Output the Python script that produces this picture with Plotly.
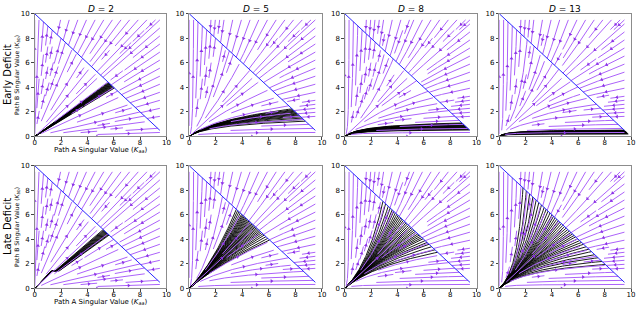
import math
import numpy as np
import plotly.graph_objects as go

# ---------------- data ----------------
DEPTHS = [2, 5, 8, 13]
ROW_LABELS = ["Early Deficit", "Late Deficit"]
TARGET = 10.0          # fixed-point line a + b = 10
GRID_MAX = 9.5         # extent of the stream grid
TICKS = [0, 2, 4, 6, 8, 10]

# x position where each black trajectory reaches the fixed-point line
EARLY_END_X = {
    2: [5.60, 5.64, 5.67, 5.70, 5.73, 5.76, 5.79, 5.82, 5.85, 5.88, 5.92, 5.96, 6.00, 6.05],
    5: [7.75, 7.82, 7.88, 7.94, 8.00, 8.06, 8.12, 8.18, 8.25, 8.32, 8.40, 8.50, 8.62, 8.75],
    8: [8.90, 8.95, 9.00, 9.04, 9.08, 9.12, 9.16, 9.20, 9.24, 9.28, 9.32, 9.37, 9.42, 9.47],
    13: [9.48, 9.51, 9.54, 9.57, 9.60, 9.62, 9.64, 9.66, 9.68, 9.70, 9.73, 9.76, 9.80],
}
LATE_END_X = {
    2: [5.20, 5.25, 5.29, 5.33, 5.37, 5.41, 5.45, 5.49, 5.53, 5.57, 5.61, 5.65],
    5: [3.55, 3.65, 3.75, 3.85, 3.95, 4.02, 4.08, 4.14, 4.20, 4.26, 4.32, 4.38, 4.44,
        4.50, 4.56, 4.62, 4.68, 4.74, 4.80, 4.86, 4.92, 4.98, 5.05, 5.12, 5.20, 5.28,
        5.36, 5.45, 5.55, 5.65, 5.78, 5.92, 6.05],
    8: [2.90, 3.10, 3.30, 3.45, 3.60, 3.72, 3.84, 3.95, 4.05, 4.15, 4.25, 4.35, 4.45,
        4.55, 4.65, 4.75, 4.85, 4.95, 5.05, 5.15, 5.25, 5.35, 5.45, 5.55, 5.65, 5.75,
        5.85, 5.95, 6.10, 6.25, 6.40, 6.60, 6.85, 7.05],
    13: [1.80, 2.05, 2.30, 2.55, 2.80, 3.00, 3.20, 3.40, 3.55, 3.70, 3.85, 4.00, 4.12,
         4.24, 4.36, 4.48, 4.60, 4.72, 4.84, 4.96, 5.08, 5.20, 5.32, 5.44, 5.56, 5.68,
         5.80, 5.95, 6.10, 6.25, 6.40, 6.60, 6.80, 7.00, 7.25, 7.50, 7.80, 8.05],
}
LATE_D2_KINK_Y = 1.45      # value of path B when the late deficit starts (D=2)
LATE_D2_PRE_SLOPE = 1.1    # b/a ratio before the late deficit (D=2)

# ---------------- style / layout ----------------
PURPLE = "rgb(172,98,250)"
ARROW = "rgb(140,50,230)"
W, H = 640, 310
XDOM_PX = [(33, 166), (189, 323), (346, 479), (502, 635)]
YDOM_PX = [(10, 136), (166, 292)]
FONT = "DejaVu Sans"


def exponent(D):
    return 2.0 - 2.0 / D


def direction(x, y, a):
    u = x ** a if x > 0 else 0.0
    v = y ** a if y > 0 else 0.0
    n = math.hypot(u, v)
    if n == 0:
        return None
    return u / n, v / n


def spiral(n):
    xfirst, yfirst, xlast, ylast = 0, 1, n - 1, n - 1
    x = y = 0
    d = "right"
    for _ in range(n * n):
        yield x, y
        if d == "right":
            x += 1
            if x >= xlast:
                xlast -= 1
                d = "up"
        elif d == "up":
            y += 1
            if y >= ylast:
                ylast -= 1
                d = "left"
        elif d == "left":
            x -= 1
            if x <= xfirst:
                xfirst += 1
                d = "down"
        else:
            y -= 1
            if y <= yfirst:
                yfirst += 1
                d = "right"


def streamlines(a, nm=30, h=0.06):
    g2m = (nm - 1) / GRID_MAX
    mask = np.zeros((nm, nm), dtype=bool)
    lines = []

    for mx, my in spiral(nm):
        if mask[my, mx]:
            continue
        x0, y0 = mx / g2m, my / g2m
        traj = []
        state = {"cur": None}

        def visit(x, y):
            cx = min(max(int(x * g2m + 0.5), 0), nm - 1)
            cy = min(max(int(y * g2m + 0.5), 0), nm - 1)
            if (cx, cy) != state["cur"]:
                if mask[cy, cx]:
                    return False
                mask[cy, cx] = True
                traj.append((cy, cx))
                state["cur"] = (cx, cy)
            return True

        def run(sgn):
            pts = [(x0, y0)]
            x, y = x0, y0
            for _ in range(3000):
                s = TARGET - x - y
                if s == 0:
                    break
                d = direction(x, y, a)
                if d is None:
                    break
                k = sgn * (1 if s > 0 else -1)
                xm = x + 0.5 * h * k * d[0]
                ym = y + 0.5 * h * k * d[1]
                d2 = direction(max(xm, 0), max(ym, 0), a) or d
                xn = x + h * k * d2[0]
                yn = y + h * k * d2[1]
                hit = False
                frac = 1.0
                if xn < 0:
                    frac = min(frac, (0 - x) / (xn - x))
                if xn > GRID_MAX:
                    frac = min(frac, (GRID_MAX - x) / (xn - x))
                if yn < 0:
                    frac = min(frac, (0 - y) / (yn - y))
                if yn > GRID_MAX:
                    frac = min(frac, (GRID_MAX - y) / (yn - y))
                if frac < 1.0:
                    xn = x + frac * (xn - x)
                    yn = y + frac * (yn - y)
                    hit = True
                sn = TARGET - xn - yn
                if sn * s < 0:
                    t = s / (s - sn)
                    xn = x + t * (xn - x)
                    yn = y + t * (yn - y)
                    hit = True
                if not visit(xn, yn):
                    break
                pts.append((xn, yn))
                x, y = xn, yn
                if hit:
                    break
            return pts

        visit(x0, y0)
        back = run(-1)
        state["cur"] = (mx, my)
        fwd = run(1)
        pts = back[::-1] + fwd[1:]
        arr = np.array(pts)
        if len(arr) > 1:
            seg = np.hypot(np.diff(arr[:, 0]), np.diff(arr[:, 1]))
            length = seg.sum()
        else:
            length = 0.0
        if length >= 0.1 * GRID_MAX:
            lines.append(arr)
        else:
            for cy, cx in traj:
                mask[cy, cx] = False
    return lines


def stream_through(xe, ye, a, n=200):
    if abs(a - 1.0) < 1e-9:
        t = np.linspace(0, 1, n)
        return t * xe, t * ye
    p = 1.0 - a
    C = ye ** p - xe ** p
    s = np.geomspace(1e-3, 1.0, n)
    if ye <= xe:
        x = xe * s
        y = (x ** p + C) ** (1.0 / p)
    else:
        y = ye * s
        x = (y ** p - C) ** (1.0 / p)
    return np.concatenate([[0.0], x]), np.concatenate([[0.0], y])


fig = go.Figure()
layout = dict(
    width=W, height=H, margin=dict(l=0, r=0, t=0, b=0), autosize=False,
    paper_bgcolor="white", plot_bgcolor="white", showlegend=False,
)
annotations = []

stream_cache = {}
for D in DEPTHS:
    stream_cache[D] = streamlines(exponent(D))

for r in range(2):
    for c, D in enumerate(DEPTHS):
        idx = r * 4 + c + 1
        xa = "x" if idx == 1 else f"x{idx}"
        ya = "y" if idx == 1 else f"y{idx}"
        a = exponent(D)
        (x0p, x1p) = XDOM_PX[c]
        (y0p, y1p) = YDOM_PX[r]
        sx = (x1p - x0p) / 10.0
        sy = (y1p - y0p) / 10.0

        # black trajectories
        bx, by = [], []
        ends = EARLY_END_X[D] if r == 0 else LATE_END_X[D]
        for xe in ends:
            ye = TARGET - xe
            if r == 1 and D == 2:
                yk = LATE_D2_KINK_Y
                xk1 = yk / LATE_D2_PRE_SLOPE
                xk2 = yk * xe / ye
                px = [0.0, xk1, xk2, xe]
                py = [0.0, yk, yk, ye]
            else:
                px, py = stream_through(xe, ye, a)
                px, py = list(px), list(py)
            bx += px + [None]
            by += py + [None]
        fig.add_trace(go.Scatter(x=bx, y=by, mode="lines", xaxis=xa, yaxis=ya,
                                 line=dict(color="black", width=0.9),
                                 hoverinfo="skip"))

        # purple streamlines
        sxs, sys_ = [], []
        ax_, ay_, aang = [], [], []
        for ln in stream_cache[D]:
            sxs += list(ln[:, 0]) + [None]
            sys_ += list(ln[:, 1]) + [None]
            seg = np.hypot(np.diff(ln[:, 0]), np.diff(ln[:, 1]))
            cum = np.cumsum(seg)
            n = int(np.searchsorted(cum, cum[-1] / 2.0))
            n = min(n, len(ln) - 2)
            mxp = 0.5 * (ln[n, 0] + ln[n + 1, 0])
            myp = 0.5 * (ln[n, 1] + ln[n + 1, 1])
            d = direction(mxp, myp, a)
            s = TARGET - mxp - myp
            if d is None or s == 0:
                continue
            k = 1 if s > 0 else -1
            th = math.degrees(math.atan2(k * d[1] * sy, k * d[0] * sx))
            ax_.append(mxp)
            ay_.append(myp)
            aang.append(90 - th)
        fig.add_trace(go.Scatter(x=sxs, y=sys_, mode="lines", xaxis=xa, yaxis=ya,
                                 line=dict(color=PURPLE, width=1),
                                 hoverinfo="skip"))
        fig.add_trace(go.Scatter(x=ax_, y=ay_, mode="markers", xaxis=xa, yaxis=ya,
                                 marker=dict(symbol="triangle-up", size=3.5, color=ARROW,
                                             angle=aang, line=dict(width=0)),
                                 hoverinfo="skip"))

        # fixed-point line
        lx = np.array([0.0, GRID_MAX])
        fig.add_trace(go.Scatter(x=lx, y=TARGET - lx, mode="lines", xaxis=xa, yaxis=ya,
                                 line=dict(color="rgb(40,40,255)", width=1),
                                 hoverinfo="skip"))

        axcommon = dict(range=[0, 10], tickvals=TICKS, ticks="outside", ticklen=2.5,
                        tickwidth=1, tickcolor="#444", showgrid=False, zeroline=False,
                        showline=True, linecolor="#8c8c8c", linewidth=1, mirror=True,
                        tickfont=dict(family=FONT, size=7, color="black"))
        layout["xaxis" if idx == 1 else f"xaxis{idx}"] = dict(
            axcommon, domain=[x0p / W, x1p / W], anchor=ya, ticklabelstandoff=-3)
        layout["yaxis" if idx == 1 else f"yaxis{idx}"] = dict(
            axcommon, domain=[1 - y1p / H, 1 - y0p / H], anchor=xa)

        if r == 0:
            annotations.append(dict(
                text=f"<i>D</i> = {D}", x=(x0p + x1p) / 2 / W, y=1 - 5.5 / H,
                xref="paper", yref="paper", showarrow=False, xanchor="center",
                yanchor="middle", font=dict(family=FONT, size=9, color="black")))
        if c == 0:
            annotations.append(dict(
                text="Path A Singular Value (<i>K</i><sub><i>aa</i></sub>)",
                x=(x0p + x1p) / 2 / W, y=1 - (y1p + 14) / H, borderpad=0,
                xref="paper", yref="paper", showarrow=False, xanchor="center",
                yanchor="middle", font=dict(family=FONT, size=7, color="black")))
            annotations.append(dict(
                text="Path B Singular Value (<i>K</i><sub><i>bb</i></sub>)",
                x=15 / W, y=1 - (y0p + y1p) / 2 / H, textangle=-90,
                xref="paper", yref="paper", showarrow=False, xanchor="center",
                yanchor="middle", font=dict(family=FONT, size=6, color="black")))
            annotations.append(dict(
                text=ROW_LABELS[r], x=5 / W, y=1 - ((y0p + y1p) / 2 - 1) / H,
                textangle=-90, xref="paper", yref="paper", showarrow=False,
                xanchor="center", yanchor="middle",
                font=dict(family=FONT, size=10, color="black")))

layout["annotations"] = annotations
fig.update_layout(**layout)
fig.write_html("out.html", config={"displayModeBar": False},
               post_script="document.body.style.margin='0';document.body.style.padding='0';")
